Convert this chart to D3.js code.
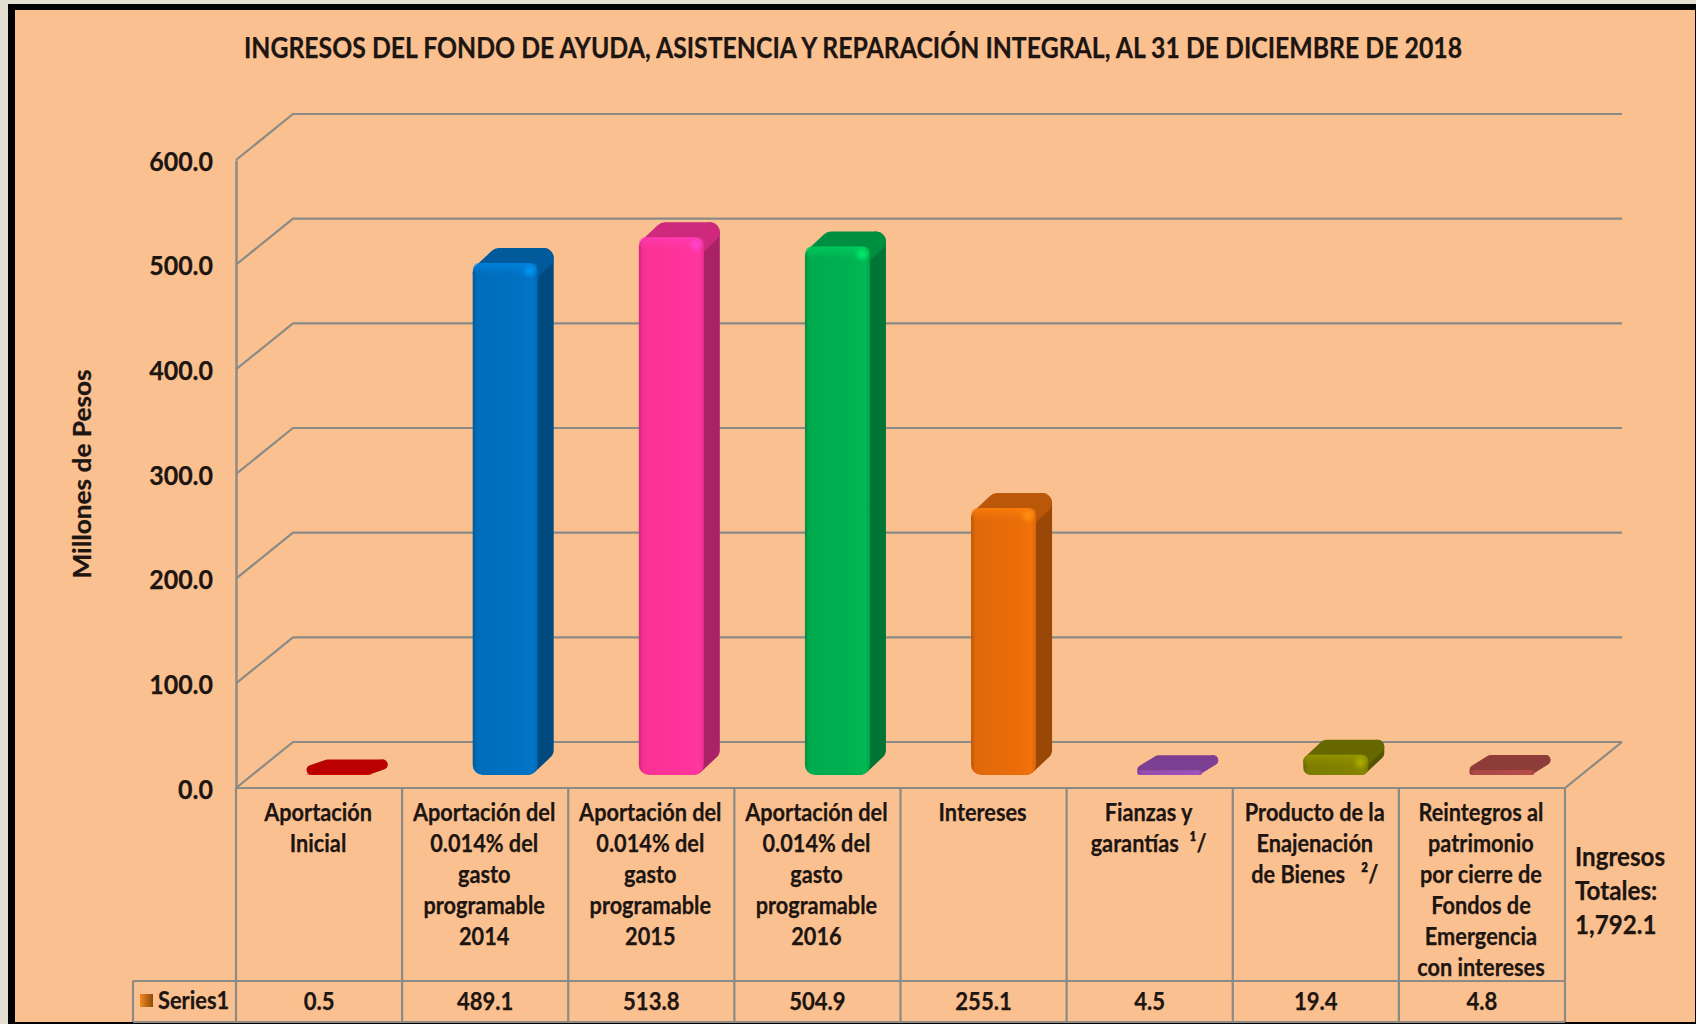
<!DOCTYPE html>
<html>
<head>
<meta charset="utf-8">
<script src="https://cdn.jsdelivr.net/npm/d3@7"></script>
<style>
  html, body { margin: 0; padding: 0; background: #e3ded2; overflow: hidden; }
  svg { display: block; }
  text { font-family: Lato, "Open Sans", sans-serif; font-weight: 700; fill: #1c1512; stroke: #1c1512; stroke-width: 0.25px; white-space: pre; }
</style>
</head>
<body>
<div class="chart"></div>
<script>
const TITLE = 'INGRESOS DEL FONDO DE AYUDA, ASISTENCIA Y REPARACIÓN INTEGRAL, AL 31 DE DICIEMBRE DE 2018'
const Y_LABEL = 'Millones de Pesos'
const SERIES_NAME = 'Series1'
const TOTAL_LINES = ['Ingresos', 'Totales:', '1,792.1']

const categories = [
  ['Aportación', 'Inicial'],
  ['Aportación del', '0.014% del', 'gasto', 'programable', '2014'],
  ['Aportación del', '0.014% del', 'gasto', 'programable', '2015'],
  ['Aportación del', '0.014% del', 'gasto', 'programable', '2016'],
  ['Intereses'],
  ['Fianzas y', 'garantías  ¹/'],
  ['Producto de la', 'Enajenación', 'de Bienes   ²/'],
  ['Reintegros al', 'patrimonio', 'por cierre de', 'Fondos de', 'Emergencia', 'con intereses']
]
const values = [0.5, 489.1, 513.8, 504.9, 255.1, 4.5, 19.4, 4.8]
const barColors = ['#e60000', '#0070c0', '#ff3399', '#00b050', '#e86c0a', '#9a4fb5', '#808000', '#b04a48']
const yTicks = [0, 100, 200, 300, 400, 500, 600]

const WIDTH = 1696
const HEIGHT = 1024
const GRID = '#8a8a86'

const plot = {left: 236, right: 1565, top: 160, bottom: 788}
const wall = {dx: 57, dy: 46}
const bar = {width: 65, shiftX: 20, liftY: 13, dx: 16, dy: 15}
const table = {rowY: 981, bottom: 1022, legendX: 133, lineH: 31, firstLine: 812}

const scaleX = d3.scaleBand().domain(d3.range(categories.length)).range([plot.left, plot.right])
const scaleY = d3.scaleLinear().domain([0, 600]).range([plot.bottom, plot.top])

const svg = d3.select('.chart').append('svg').attr('width', WIDTH).attr('height', HEIGHT)
const defs = svg.append('defs')

// frame
svg.append('rect').attr('x', 8).attr('y', 4).attr('width', WIDTH - 8).attr('height', HEIGHT - 4).attr('fill', '#000')
svg.append('rect').attr('x', 15).attr('y', 10).attr('width', WIDTH - 16).attr('height', HEIGHT - 12).attr('fill', '#fbc08f')

function squeeze (sel, k) {
  sel.each(function () {
    const len = this.getComputedTextLength()
    d3.select(this).attr('textLength', len * k).attr('lengthAdjust', 'spacingAndGlyphs')
  })
  return sel
}

// title
svg.append('text')
  .attr('x', 853).attr('y', 58)
  .attr('text-anchor', 'middle')
  .attr('font-size', 28)
  .text(TITLE)
  .call(squeeze, 0.886)

// walls
const grid = svg.append('g')
  .attr('fill', 'none')
  .attr('stroke', GRID)
  .attr('stroke-width', 2.2)

grid.selectAll('path.wall').data(yTicks).enter().append('path')
  .attr('class', 'wall')
  .attr('d', d => d3.line()([
    [plot.left, scaleY(d)],
    [plot.left + wall.dx, scaleY(d) - wall.dy],
    [plot.right + wall.dx, scaleY(d) - wall.dy]
  ]))

// floor edge on the right
grid.append('path')
  .attr('d', d3.line()([
    [plot.right, plot.bottom],
    [plot.right + wall.dx, plot.bottom - wall.dy]
  ]))

// y axis
const axisLeft = d3.axisLeft(scaleY).tickValues(yTicks).tickSize(0).tickPadding(23).tickFormat(d3.format('.1f'))
const axisG = svg.append('g')
  .attr('class', 'axis axis--y')
  .attr('transform', `translate(${plot.left},0)`)
  .call(axisLeft)
axisG.select('.domain').attr('stroke', GRID).attr('stroke-width', 2.4)
axisG.selectAll('text')
  .attr('font-size', 26)
  .attr('font-family', null)
  .attr('text-anchor', 'end')
  .attr('dy', '0.39em')
  .call(squeeze, 0.96)

svg.append('text')
  .attr('transform', 'translate(91,474) rotate(-90)')
  .attr('text-anchor', 'middle')
  .attr('font-size', 25)
  .text(Y_LABEL)
  .call(squeeze, 1.05)

// bars
function barGradients (color, i) {
  const base = d3.color(color)
  const front = defs.append('linearGradient').attr('id', `front-${i}`)
  front.append('stop').attr('offset', 0).attr('stop-color', base.darker(0.6))
  front.append('stop').attr('offset', 0.07).attr('stop-color', base.darker(0.08))
  front.append('stop').attr('offset', 0.6).attr('stop-color', base)
  front.append('stop').attr('offset', 0.93).attr('stop-color', base.brighter(0.12))
  front.append('stop').attr('offset', 1).attr('stop-color', base.darker(0.2))

  const bevel = defs.append('linearGradient').attr('id', `bevel-${i}`).attr('x2', 0).attr('y2', 1)
  bevel.append('stop').attr('offset', 0).attr('stop-color', base.brighter(0.5)).attr('stop-opacity', 0.7)
  bevel.append('stop').attr('offset', 1).attr('stop-color', base.brighter(0.5)).attr('stop-opacity', 0)

  const glow = defs.append('radialGradient').attr('id', `glow-${i}`)
  glow.append('stop').attr('offset', 0).attr('stop-color', base.brighter(1)).attr('stop-opacity', 0.8)
  glow.append('stop').attr('offset', 1).attr('stop-color', base.brighter(1)).attr('stop-opacity', 0)
}

barColors.forEach(barGradients)

const items = categories.map((c, i) => {
  const x0 = scaleX(i) + scaleX.bandwidth() / 2 + bar.shiftX - bar.width / 2
  return {
    i,
    x0,
    x1: x0 + bar.width,
    base: plot.bottom - bar.liftY,
    top: scaleY(values[i]) - bar.liftY,
    color: d3.color(barColors[i])
  }
})

const bars = svg.selectAll('g.bar').data(items).enter().append('g').attr('class', 'bar')

function solid (sel, points, color, r) {
  sel.append('path')
    .attr('d', d3.line()(points) + 'Z')
    .attr('fill', color)
    .attr('stroke', color)
    .attr('stroke-width', r * 2)
    .attr('stroke-linejoin', 'round')
}

bars.each(function (d) {
  const g = d3.select(this)
  const h = d.base - d.top
  const r = h < 10 ? 5 : h < 30 ? 7 : 10
  const frontY = Math.min(d.top + r, d.base - r)
  const backY = d.top - bar.dy + r
  // side face
  solid(g, [
    [d.x1 - r, frontY],
    [d.x1 + bar.dx - r, backY],
    [d.x1 + bar.dx - r, Math.max(d.base - bar.dy - r, backY)],
    [d.x1 - r, d.base - r]
  ], d.color.darker(1.15), r)
  // top face
  solid(g, [
    [d.x0 + r, frontY],
    [d.x0 + bar.dx + r, backY],
    [d.x1 + bar.dx - r, backY],
    [d.x1 - r, frontY]
  ], d.color.darker(0.6), r)
  // front face
  g.append('rect')
    .attr('x', d.x0).attr('y', d.top)
    .attr('width', bar.width).attr('height', h)
    .attr('rx', Math.min(r, h / 2))
    .attr('fill', `url(#front-${d.i})`)
  if (h > 12) {
    g.append('rect')
      .attr('x', d.x0).attr('y', d.top)
      .attr('width', bar.width).attr('height', 12)
      .attr('rx', Math.min(r, 6))
      .attr('fill', `url(#bevel-${d.i})`)
    g.append('circle')
      .attr('cx', d.x1 - 8).attr('cy', d.top + 8)
      .attr('r', 8)
      .attr('fill', `url(#glow-${d.i})`)
  }
})

// data table
const tableLines = svg.append('g')
  .attr('fill', 'none')
  .attr('stroke', GRID)
  .attr('stroke-width', 2.2)

tableLines.append('path')
  .attr('d', d3.line()([[plot.left, plot.bottom], [plot.right, plot.bottom]]))
tableLines.append('path')
  .attr('d', d3.line()([[table.legendX, table.rowY], [plot.right, table.rowY]]))
tableLines.append('path')
  .attr('d', d3.line()([[table.legendX, table.bottom], [plot.right, table.bottom]]))
tableLines.append('path')
  .attr('d', d3.line()([[table.legendX, table.rowY], [table.legendX, table.bottom]]))

tableLines.selectAll('path.div').data(d3.range(categories.length + 1)).enter().append('path')
  .attr('class', 'div')
  .attr('d', i => {
    const x = i === categories.length ? plot.right : scaleX(i)
    return d3.line()([[x, plot.bottom], [x, table.bottom]])
  })

const labels = svg.selectAll('g.cat').data(categories).enter().append('g').attr('class', 'cat')

labels.selectAll('text').data((d, i) => d.map((t, j) => ({t, j, i}))).enter().append('text')
  .attr('x', d => scaleX(d.i) + scaleX.bandwidth() / 2 - 1)
  .attr('y', d => table.firstLine + d.j * table.lineH + 9)
  .attr('text-anchor', 'middle')
  .attr('font-size', 24)
  .text(d => d.t)
  .call(squeeze, 0.905)

svg.selectAll('text.val').data(values).enter().append('text')
  .attr('class', 'val')
  .attr('x', (d, i) => scaleX(i) + scaleX.bandwidth() / 2)
  .attr('y', 1010)
  .attr('text-anchor', 'middle')
  .attr('font-size', 24)
  .text(d => d3.format('.1f')(d))
  .call(squeeze, 0.92)

// legend key
const keyGrad = defs.append('linearGradient').attr('id', 'key').attr('x2', 1).attr('y2', 0)
keyGrad.append('stop').attr('offset', 0).attr('stop-color', '#f08a22')
keyGrad.append('stop').attr('offset', 1).attr('stop-color', '#8f4a08')
svg.append('rect').attr('x', 140).attr('y', 994).attr('width', 13).attr('height', 13).attr('fill', 'url(#key)')
svg.append('text')
  .attr('x', 158).attr('y', 1009)
  .attr('font-size', 24)
  .text(SERIES_NAME)
  .call(squeeze, 0.91)

// total note
svg.selectAll('text.total').data(TOTAL_LINES).enter().append('text')
  .attr('class', 'total')
  .attr('x', 1575)
  .attr('y', (d, i) => 866 + i * 34)
  .attr('font-size', 26)
  .text(d => d)
  .call(squeeze, 0.93)
</script>
</body>
</html>
